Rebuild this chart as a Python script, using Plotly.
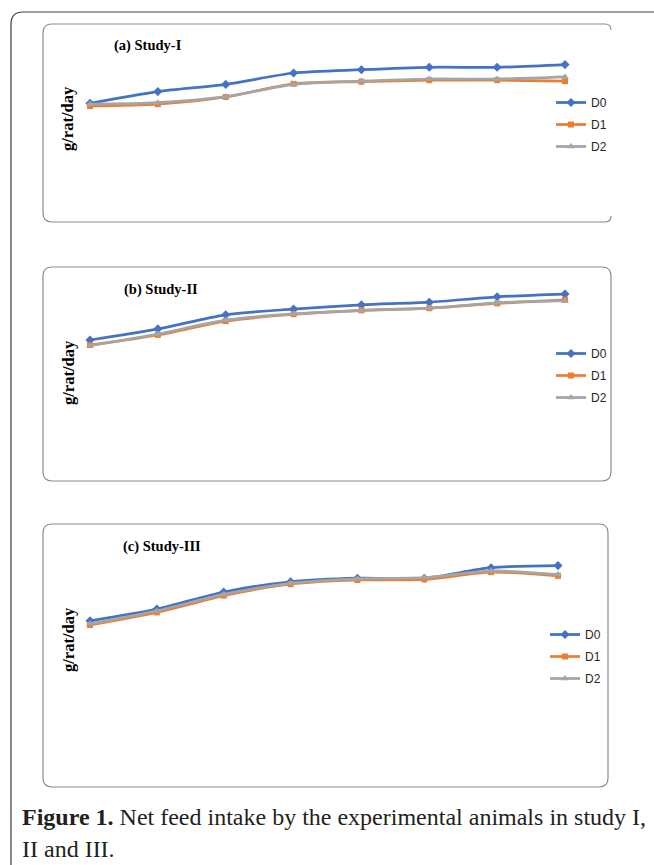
import plotly.graph_objects as go

W, H = 654, 865

# ---- data (arbitrary g/rat/day scale) ----
periods = [1, 2, 3, 4, 5, 6, 7, 8]
series_names = ["D0", "D1", "D2"]

study1_D0 = [16.95, 18.9, 20.1, 22.0, 22.55, 22.95, 22.95, 23.4]
study1_D1 = [16.5, 16.8, 18.0, 20.2, 20.55, 20.8, 20.8, 20.65]
study1_D2 = [16.8, 17.05, 18.05, 20.1, 20.65, 21.0, 21.0, 21.35]

study2_D0 = [20.0, 21.85, 24.2, 25.15, 25.85, 26.3, 27.2, 27.65]
study2_D1 = [19.15, 20.85, 23.15, 24.3, 24.95, 25.3, 26.1, 26.7]
study2_D2 = [19.05, 21.0, 23.3, 24.35, 24.9, 25.3, 26.2, 26.55]

study3_D0 = [23.2, 25.15, 28.0, 29.7, 30.3, 30.3, 32.05, 32.4]
study3_D1 = [22.5, 24.6, 27.4, 29.3, 30.0, 30.1, 31.3, 30.7]
study3_D2 = [22.7, 24.85, 27.6, 29.45, 30.2, 30.4, 31.5, 30.9]

panel_titles = ["(a) Study-I", "(b) Study-II", "(c) Study-III"]
y_label = "g/rat/day"
caption_bold = "Figure 1."
caption_rest = " Net feed intake by the experimental animals in study I,"
caption_line2 = "II and III."

colors = ["#4472C4", "#ED7D31", "#A5A5A5"]
symbols = ["diamond", "square", "triangle-up"]
msizes = [7, 6, 7]


def fx(px):
    return px / W


def fy(py):
    return 1 - py / H


# panel geometry in pixels
panels = [
    dict(data=[study1_D0, study1_D1, study1_D2], x0=90, x1=565, yb=205, yrange=25,
         box=(43, 24, 611, 222), title_xy=(112, 45), ylab_xy=(68, 119),
         leg_xy=(551, 88), open_right=True),
    dict(data=[study2_D0, study2_D1, study2_D2], x0=90, x1=565, yb=460, yrange=30,
         box=(43, 267, 611, 481), title_xy=(122, 290), ylab_xy=(68, 373),
         leg_xy=(551, 339), open_right=False),
    dict(data=[study3_D0, study3_D1, study3_D2], x0=90, x1=558, yb=760, yrange=35,
         box=(43, 524, 608, 787), title_xy=(121, 546), ylab_xy=(68, 640),
         leg_xy=(545, 620), open_right=False),
]

K = 6.0  # px per unit

fig = go.Figure()
shapes = []
annotations = []
layout_axes = {}

for i, p in enumerate(panels):
    n = i + 1
    xs = "x" if n == 1 else f"x{n}"
    ys = "y" if n == 1 else f"y{n}"
    xa = "xaxis" if n == 1 else f"xaxis{n}"
    ya = "yaxis" if n == 1 else f"yaxis{n}"
    leg = "legend" if n == 1 else f"legend{n}"

    step = (p["x1"] - p["x0"]) / 7
    pad = 0.3
    dx0 = p["x0"] - pad * step
    dx1 = p["x1"] + pad * step
    layout_axes[xa] = dict(domain=[fx(dx0), fx(dx1)], range=[1 - pad, 8 + pad],
                           visible=False, anchor=ys)
    ytop = p["yb"] - p["yrange"] * K
    layout_axes[ya] = dict(domain=[fy(p["yb"]), fy(ytop)], range=[0, p["yrange"]],
                           visible=False, anchor=xs)

    for j in range(3):
        fig.add_trace(go.Scatter(
            x=periods, y=p["data"][j], name=series_names[j],
            mode="lines+markers", xaxis=xs, yaxis=ys, legend=leg,
            legendgroup=f"{n}-{j}",
            line=dict(color=colors[j], width=2.75, shape="spline", smoothing=0.8),
            marker=dict(symbol=symbols[j], size=msizes[j], color=colors[j]),
            cliponaxis=False,
        ))

    lx, ly = p["leg_xy"]
    layout_axes[leg] = dict(
        x=fx(lx), y=fy(ly), xanchor="left", yanchor="top",
        bgcolor="rgba(0,0,0,0)", borderwidth=0,
        font=dict(family="Liberation Sans", size=12, color="#262626"),
        tracegroupgap=3, itemwidth=30,
    )

    # panel rounded border
    x0, y0, x1, y1 = p["box"]
    r = 9
    if p["open_right"]:
        path = (f"M {fx(x1)},{fy(y0 + 6)} Q {fx(x1)},{fy(y0)} {fx(x1 - 6)},{fy(y0)} "
                f"L {fx(x0 + r)},{fy(y0)} Q {fx(x0)},{fy(y0)} {fx(x0)},{fy(y0 + r)} "
                f"L {fx(x0)},{fy(y1 - r)} Q {fx(x0)},{fy(y1)} {fx(x0 + r)},{fy(y1)} "
                f"L {fx(x1 - 6)},{fy(y1)} Q {fx(x1)},{fy(y1)} {fx(x1)},{fy(y1 - 6)}")
    else:
        path = (f"M {fx(x1 - r)},{fy(y0)} "
                f"L {fx(x0 + r)},{fy(y0)} Q {fx(x0)},{fy(y0)} {fx(x0)},{fy(y0 + r)} "
                f"L {fx(x0)},{fy(y1 - r)} Q {fx(x0)},{fy(y1)} {fx(x0 + r)},{fy(y1)} "
                f"L {fx(x1 - r)},{fy(y1)} Q {fx(x1)},{fy(y1)} {fx(x1)},{fy(y1 - r)} "
                f"L {fx(x1)},{fy(y0 + r)} Q {fx(x1)},{fy(y0)} {fx(x1 - r)},{fy(y0)}")
    shapes.append(dict(type="path", path=path, xref="paper", yref="paper",
                       line=dict(color="#8C8C8C", width=1.2)))

    tx, ty = p["title_xy"]
    annotations.append(dict(text=f"<b>{panel_titles[i]}</b>", x=fx(tx), y=fy(ty),
                            xref="paper", yref="paper", xanchor="left", yanchor="middle",
                            showarrow=False,
                            font=dict(family="Liberation Serif", size=14.5, color="#000")))
    gx, gy = p["ylab_xy"]
    annotations.append(dict(text=f"<b>{y_label}</b>", x=fx(gx), y=fy(gy),
                            xref="paper", yref="paper", xanchor="center", yanchor="middle",
                            textangle=-90, showarrow=False,
                            font=dict(family="Liberation Serif", size=16.5, color="#000")))

# outer frame
shapes.append(dict(type="path", xref="paper", yref="paper",
                   path=(f"M {fx(656)},{fy(12)} L {fx(23)},{fy(12)} "
                         f"Q {fx(11)},{fy(12)} {fx(11)},{fy(24)} L {fx(11)},{fy(867)}"),
                   line=dict(color="#404040", width=1.2)))

annotations.append(dict(text=f"<b>{caption_bold}</b>{caption_rest}", x=fx(20), y=fy(817),
                        xref="paper", yref="paper", xanchor="left", yanchor="middle",
                        showarrow=False,
                        font=dict(family="Liberation Serif", size=24, color="#231F20")))
annotations.append(dict(text=caption_line2, x=fx(20), y=fy(849),
                        xref="paper", yref="paper", xanchor="left", yanchor="middle",
                        showarrow=False,
                        font=dict(family="Liberation Serif", size=24, color="#231F20")))

fig.update_layout(
    width=W, height=H, autosize=False,
    margin=dict(l=0, r=0, t=0, b=0),
    paper_bgcolor="white", plot_bgcolor="rgba(0,0,0,0)",
    shapes=shapes, annotations=annotations,
    **layout_axes,
)

fig.write_html("out.html")
